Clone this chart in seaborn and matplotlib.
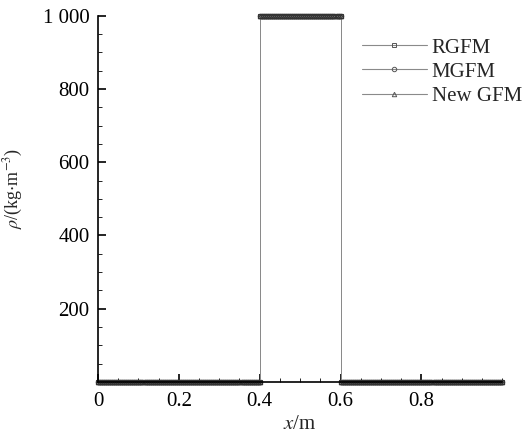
import numpy as np
import pandas as pd
import matplotlib
matplotlib.use("Agg")
import matplotlib.pyplot as plt
import seaborn as sns
from matplotlib.ticker import MultipleLocator, FixedLocator
from matplotlib.lines import Line2D

# ---- data ----
methods = ["RGFM", "MGFM", "New GFM"]
seg_edges = [0.0, 0.4, 0.6, 1.0]        # region boundaries (m)
seg_rho = [1.0, 1000.0, 1.0]             # density in each region (kg/m^3)
cells_per_seg = [80, 40, 80]             # grid points in each region
x_ticks = [0, 0.2, 0.4, 0.6, 0.8]
x_tick_labels = ["0", "0.2", "0.4", "0.6", "0.8"]
y_ticks = [200, 400, 600, 800, 1000]
y_tick_labels = ["200", "400", "600", "800", "1 000"]

xs, rs = [], []
for i, r in enumerate(seg_rho):
    seg_x = np.linspace(seg_edges[i], seg_edges[i + 1], cells_per_seg[i] + 1)
    xs.extend(seg_x)
    rs.extend([r] * len(seg_x))
x_grid = np.array(xs)
rho_vals = np.array(rs)

frames = []
for m in methods:
    frames.append(pd.DataFrame({"x": x_grid, "rho": rho_vals, "method": m}))
df = pd.concat(frames, ignore_index=True)

sns.set_theme(style="ticks")
plt.rcParams["font.family"] = ["Liberation Serif", "DejaVu Serif"]
plt.rcParams["mathtext.fontset"] = "stix"

fig = plt.figure(figsize=(5.27, 4.41), dpi=100)
ax = fig.add_axes([0.186, 0.134, 0.767, 0.830])

markers = {"RGFM": "s", "MGFM": "o", "New GFM": "^"}
palette = {m: "#8a8a8a" for m in methods}
sns.lineplot(data=df, x="x", y="rho", hue="method", style="method",
             markers=markers, dashes=False, palette=palette, ax=ax,
             linewidth=0.7, markersize=3.2, markeredgecolor="#333333",
             markerfacecolor="none", markeredgewidth=0.8, legend=False,
             clip_on=False, sort=False, estimator=None)

ax.set_xlim(0, 1.0)
ax.set_ylim(0, 1000)
ax.xaxis.set_major_locator(FixedLocator(x_ticks))
ax.set_xticklabels(x_tick_labels)
ax.yaxis.set_major_locator(FixedLocator(y_ticks))
ax.set_yticklabels(y_tick_labels)
ax.xaxis.set_minor_locator(MultipleLocator(0.05))
ax.yaxis.set_minor_locator(MultipleLocator(50))
ax.tick_params(which="both", direction="in", colors="black", labelsize=15)
ax.tick_params(which="major", length=6, width=1.2)
ax.tick_params(which="minor", length=3, width=0.6)
ax.tick_params(axis="x", pad=7)
ax.tick_params(axis="y", pad=6)
for s in ["top", "right"]:
    ax.spines[s].set_visible(False)
for s in ["left", "bottom"]:
    ax.spines[s].set_linewidth(1.2)
    ax.spines[s].set_color("black")

ax.set_xlabel(r"$x$/m", fontsize=15, labelpad=3)
ax.set_ylabel(r"$\rho$/(kg$\cdot$m$^{-3}$)", fontsize=13)
ax.yaxis.set_label_coords(-0.18, 0.53)

handles = [Line2D([0], [0], color="#8a8a8a", lw=0.8, marker=markers[m],
                  markersize=3.2, markerfacecolor="none",
                  markeredgecolor="#555555", markeredgewidth=0.7)
           for m in methods]
ax.legend(handles, methods, loc="upper left",
          bbox_to_anchor=(362 / 527, 1 - 38 / 441),
          bbox_transform=fig.transFigure, borderpad=0, borderaxespad=0,
          frameon=False, fontsize=15, handlelength=3.1, handletextpad=0.25,
          labelspacing=0.22)

fig.savefig("out.png", dpi=100)
